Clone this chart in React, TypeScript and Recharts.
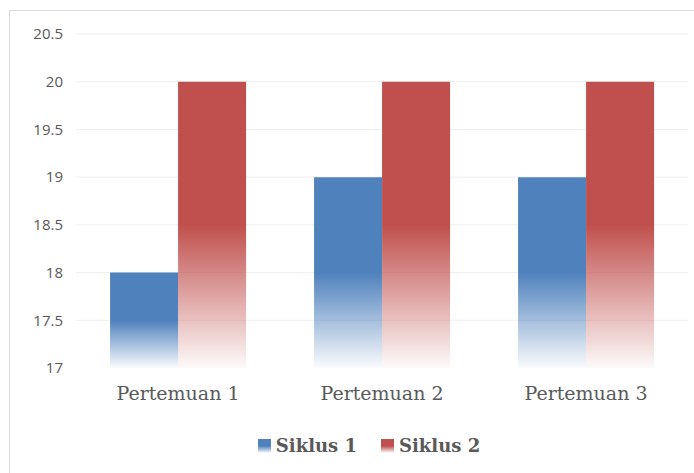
import { Bar, BarChart, CartesianGrid, Legend, XAxis, YAxis } from "recharts";

const categories = ["Pertemuan 1", "Pertemuan 2", "Pertemuan 3"];
const siklus1 = [18, 19, 19];
const siklus2 = [20, 20, 20];
const yTicks = [17, 17.5, 18, 18.5, 19, 19.5, 20, 20.5];

const data = categories.map((name, i) => ({
    name,
    s1: siklus1[i],
    s2: siklus2[i],
}));

const SERIES = [
    { key: "s1", label: "Siklus 1", color: "#4f81bd", grad: "gradBlue" },
    { key: "s2", label: "Siklus 2", color: "#c0504d", grad: "gradRed" },
];

const LegendBox = () => (
    <div style={{ display: "flex", justifyContent: "center", gap: 24, alignItems: "center", paddingLeft: 50 }}>
        {SERIES.map((s) => (
            <div key={s.key} style={{ display: "flex", alignItems: "center" }}>
                <span
                    style={{
                        width: 13,
                        height: 14,
                        marginRight: 5,
                        background: `linear-gradient(${s.color} 0%, ${s.color} 50%, rgba(255,255,255,0.6) 100%)`,
                    }}
                />
                <span style={{ fontFamily: "'DejaVu Serif'", fontWeight: "bold", fontSize: 18, color: "#595959" }}>
                    {s.label}
                </span>
            </div>
        ))}
    </div>
);

export default function App() {
    return (
        <div style={{ position: "absolute", left: 0, top: 0, width: 694, height: 473, background: "#fff" }}>
            <div
                style={{
                    position: "absolute",
                    left: 9,
                    top: 10,
                    width: 690,
                    height: 470,
                    border: "1px solid #d9d9d9",
                }}
            />
            <BarChart
                width={694}
                height={473}
                data={data}
                margin={{ top: 34, right: 6, bottom: 17, left: 0 }}
                barCategoryGap="16.7%"
                barGap={0}
            >
                <defs>
                    {SERIES.map((s) => (
                        <linearGradient key={s.grad} id={s.grad} x1="0" y1="0" x2="0" y2="1">
                            <stop offset="0%" stopColor={s.color} stopOpacity={1} />
                            <stop offset="50%" stopColor={s.color} stopOpacity={1} />
                            <stop offset="100%" stopColor={s.color} stopOpacity={0.03} />
                        </linearGradient>
                    ))}
                </defs>
                <CartesianGrid vertical={false} stroke="#efefef" horizontalValues={yTicks.slice(1)} />
                <XAxis
                    dataKey="name"
                    axisLine={false}
                    tickLine={false}
                    tickMargin={13}
                    height={67}
                    tick={{ fontFamily: "'DejaVu Serif'", fontSize: 19, fill: "#595959" }}
                />
                <YAxis
                    domain={[17, 20.5]}
                    ticks={yTicks}
                    axisLine={false}
                    tickLine={false}
                    tickSize={0}
                    tickMargin={13}
                    width={76}
                    tick={{ fontFamily: "'Open Sans'", fontSize: 15, fill: "#595959" }}
                />
                <Legend verticalAlign="bottom" content={<LegendBox />} />
                {SERIES.map((s) => (
                    <Bar key={s.key} dataKey={s.key} name={s.label} fill={`url(#${s.grad})`} isAnimationActive={false} />
                ))}
            </BarChart>
        </div>
    );
}
